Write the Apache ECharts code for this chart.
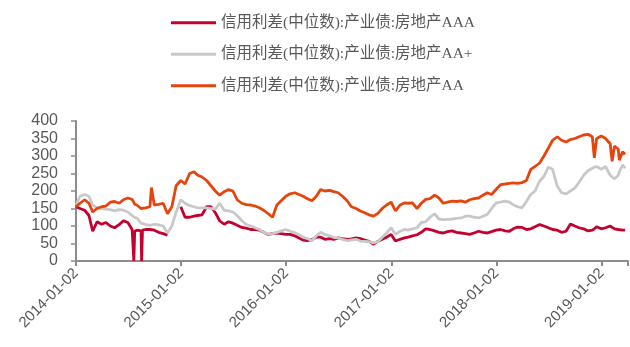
<!DOCTYPE html>
<html style="height: 100%">

<head>
    <meta charset="utf-8">
</head>

<body style="height: 100%; margin: 0; background: #fff">
    <div id="main" style="width: 630px; height: 347px"></div>

    <script type="text/javascript" src="https://cdn.jsdelivr.net/npm/echarts@6.0.0/dist/echarts.min.js"></script>

    <script type="text/javascript">
        var seriesNames = [
            '信用利差(中位数):产业债:房地产AAA',
            '信用利差(中位数):产业债:房地产AA+',
            '信用利差(中位数):产业债:房地产AA'
        ];

        var tickLabels = ['2014-01-02', '2015-01-02', '2016-01-02', '2017-01-02', '2018-01-02', '2019-01-02'];

        var dates = [
            // 2014
            '2014-01-02', '2014-01-16', '2014-02-01', '2014-02-16', '2014-03-01', '2014-03-16', '2014-04-01', '2014-04-16',
            '2014-05-01', '2014-05-16', '2014-06-01', '2014-06-16', '2014-07-01', '2014-07-16', '2014-07-19', '2014-07-22',
            '2014-07-25', '2014-08-01', '2014-08-16', '2014-08-18', '2014-08-21', '2014-09-01', '2014-09-16', '2014-09-21',
            '2014-10-01', '2014-10-16', '2014-11-01', '2014-11-16', '2014-12-01', '2014-12-16',
            // 2015
            '2015-01-01', '2015-01-16', '2015-02-01', '2015-02-16', '2015-03-01', '2015-03-16', '2015-04-01', '2015-04-16',
            '2015-05-01', '2015-05-16', '2015-06-01', '2015-06-16', '2015-07-01', '2015-07-16', '2015-08-01', '2015-08-16',
            '2015-09-01', '2015-09-16', '2015-10-01', '2015-10-16', '2015-11-01', '2015-11-16', '2015-12-01', '2015-12-16',
            // 2016
            '2016-01-01', '2016-01-16', '2016-02-01', '2016-02-16', '2016-03-01', '2016-03-16', '2016-04-01', '2016-04-16',
            '2016-05-01', '2016-05-16', '2016-06-01', '2016-06-16', '2016-07-01', '2016-07-16', '2016-08-01', '2016-08-16',
            '2016-09-01', '2016-09-16', '2016-10-01', '2016-10-16', '2016-11-01', '2016-11-16', '2016-12-01', '2016-12-16',
            // 2017
            '2017-01-01', '2017-01-16', '2017-02-01', '2017-02-16', '2017-03-01', '2017-03-16', '2017-04-01', '2017-04-16',
            '2017-05-01', '2017-05-16', '2017-06-01', '2017-06-16', '2017-07-01', '2017-07-16', '2017-08-01', '2017-08-16',
            '2017-09-01', '2017-09-16', '2017-10-01', '2017-10-16', '2017-11-01', '2017-11-16', '2017-12-01', '2017-12-16',
            // 2018
            '2018-01-01', '2018-01-16', '2018-02-01', '2018-02-16', '2018-03-01', '2018-03-16', '2018-04-01', '2018-04-16',
            '2018-05-01', '2018-05-16', '2018-06-01', '2018-06-16', '2018-07-01', '2018-07-16', '2018-08-01', '2018-08-16',
            '2018-09-01', '2018-09-16', '2018-10-01', '2018-10-16', '2018-11-01', '2018-11-16', '2018-12-01', '2018-12-08',
            '2018-12-16',
            // 2019
            '2019-01-01', '2019-01-16', '2019-02-01', '2019-02-08', '2019-02-16', '2019-03-01', '2019-03-05', '2019-03-16',
            '2019-03-25'
        ];

        var aaa = [
            155, 150, 145, 130, 85, 112, 105, 110, 100, 95, 104, 115, 110, 90, 85, 0,
            85, 88, 86, 0, 88, 90, 90, 89, 88, 82, 78, 74, null, null,
            155, 125, 125, 128, 130, 132, 155, 155, 138, 115, 105, 112, 108, 102, 96, 94,
            90, 90, 88, 82, 76, 78, 80, 78,
            76, 76, 72, 66, 60, 58, 61, 68, 68, 62, 64, 62, 66, 64, 62, 63,
            66, 64, 60, 56, 48, 56, 62, 68,
            76, 57, 62, 66, 68, 72, 75, 82, 92, 90, 86, 82, 80, 84, 86, 82,
            80, 78, 76, 80, 85, 82, 80, 84,
            88, 90, 86, 85, 92, 97, 96, 90, 92, 98, 104, 100, 95, 90, 88, 82,
            85, 106, 100, 95, 92, 86, 88, 92, 98,
            92, 95, 100, 96, 92, 90, 89, 88, 88
        ];

        var aaPlus = [
            160, 185, 190, 185, 160, 152, 150, 148, 147, 143, 147, 145, 140, 130, 128, 126,
            124, 123, 108, 106, 104, 104, 102, 103, 105, 103, 100, 80, 100, 140,
            175, 165, 158, 155, 152, 152, 152, 150, 148, 165, 145, 143, 140, 130, 115, 105,
            100, 95, 90, 82, 77, 78, 82, 86,
            90, 85, 81, 75, 68, 64, 58, 72, 82, 76, 72, 67, 66, 62, 58, 60,
            62, 57, 56, 55, 52, 55, 68, 80,
            95, 76, 85, 90, 88, 92, 95, 110, 112, 125, 135, 120, 118, 119, 120, 122,
            123, 128, 128, 125, 123, 128, 133, 150,
            166, 168, 171, 168, 161, 155, 152, 170, 190, 200, 228, 242, 268, 262, 214, 195,
            192, 200, 208, 225, 245, 258, 265, 268, 270,
            262, 270, 245, 240, 235, 245, 255, 275, 265
        ];

        var aa = [
            155, 165, 175, 165, 140, 150, 155, 157, 168, 170, 165, 175, 180, 176, 172, 168,
            162, 160, 150, 152, 150, 152, 155, 210, 160, 162, 165, 135, 155, 215,
            230, 220, 250, 255, 245, 240, 230, 215, 200, 188, 198, 204, 200, 175, 165, 161,
            160, 157, 152, 145, 135, 125, 160, 172,
            185, 192, 195, 190, 185, 178, 172, 185, 204, 200, 202, 198, 195, 185, 172, 155,
            150, 143, 138, 132, 128, 136, 150, 160,
            168, 143, 160, 166, 165, 166, 150, 165, 176, 178, 188, 180, 165, 168, 171, 170,
            172, 168, 175, 178, 180, 188, 195, 190,
            205, 218, 220, 222, 223, 222, 224, 230, 262, 270, 280, 300, 322, 345, 355, 345,
            340, 347, 350, 355, 360, 362, 355, 295, 350,
            357, 350, 335, 285, 328, 320, 288, 312, 305
        ];

        var colors = ['#C4002F', '#C8C8C8', '#E5450C'];

        var YEAR = 365.25 * 24 * 3600 * 1000;
        var t0 = Date.parse(tickLabels[0]);

        function pairs(values) {
            return dates.map(function (d, i) {
                return [Date.parse(d), values[i]];
            });
        }

        var dom = document.getElementById('main');
        var myChart = echarts.init(dom, null, { renderer: 'canvas' });

        var lineSeries = [aaa, aaPlus, aa].map(function (vals, k) {
            return {
                name: seriesNames[k],
                type: 'line',
                showSymbol: false,
                symbol: 'none',
                connectNulls: false,
                lineStyle: { width: 2.8, color: colors[k] },
                itemStyle: { color: colors[k] },
                data: pairs(vals)
            };
        });

        var option = {
            animation: false,
            backgroundColor: '#fff',
            legend: {
                orient: 'vertical',
                left: 166,
                top: 10,
                icon: 'rect',
                itemWidth: 45,
                itemHeight: 3,
                itemGap: 16,
                data: seriesNames,
                textStyle: {
                    fontSize: 15.5,
                    color: '#595959',
                    fontFamily: '"Liberation Serif", "Noto Sans CJK SC", serif'
                }
            },
            grid: {
                left: 76,
                right: 0,
                top: 121,
                bottom: 86
            },
            xAxis: {
                type: 'value',
                min: t0,
                max: t0 + 5.25 * YEAR,
                interval: YEAR,
                splitLine: { show: false },
                axisLine: { lineStyle: { color: '#8c8c8c', width: 2 } },
                axisTick: { show: true, length: 5, lineStyle: { color: '#8c8c8c', width: 2 } },
                axisLabel: {
                    rotate: 45,
                    margin: 10,
                    fontSize: 15,
                    color: '#595959',
                    fontFamily: '"Liberation Sans", Arial, sans-serif',
                    formatter: function (v) {
                        var k = (v - t0) / YEAR;
                        var r = Math.round(k);
                        if (Math.abs(k - r) > 0.01) return '';
                        return tickLabels[r] || '';
                    }
                }
            },
            yAxis: {
                type: 'value',
                min: 0,
                max: 400,
                interval: 50,
                splitLine: { show: false },
                axisLine: { show: true, lineStyle: { color: '#8c8c8c', width: 2 } },
                axisTick: { show: true, length: 5, lineStyle: { color: '#8c8c8c', width: 1.5 } },
                axisLabel: {
                    margin: 18,
                    fontSize: 16,
                    color: '#595959',
                    fontFamily: '"Liberation Sans", Arial, sans-serif'
                }
            },
            series: lineSeries
        };

        if (option && typeof option === 'object') {
            myChart.setOption(option);
        }
    </script>
</body>

</html>
